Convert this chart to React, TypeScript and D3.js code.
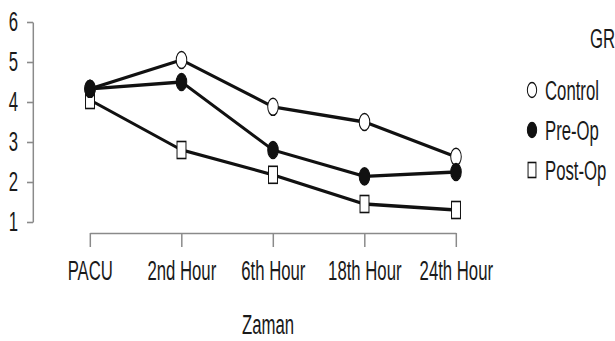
import React, { useRef, useEffect } from 'react';
import * as d3 from 'd3';

const categories = ['PACU', '2nd Hour', '6th Hour', '18th Hour', '24th Hour'];
const yTicks = [1, 2, 3, 4, 5, 6];
const controlValues = [4.33, 5.05, 3.88, 3.5, 2.63];
const preOpValues = [4.33, 4.5, 2.8, 2.14, 2.25];
const postOpValues = [4.05, 2.8, 2.18, 1.45, 1.3];

// the source figure is squeezed horizontally, so draw in a stretched space
const S = 0.62;
const FONT = '"Liberation Sans", Arial, sans-serif';

const App = () => {
  const ref = useRef<HTMLDivElement>(null);

  useEffect(() => {
    if (!ref.current) return;
    d3.select(ref.current).select('svg').remove();

    const width = 615;
    const height = 341;
    const svg = d3.select(ref.current)
      .append('svg')
      .attr('width', width)
      .attr('height', height)
      .style('position', 'absolute')
      .style('left', 0)
      .style('top', 0)
      .style('background', '#fff');

    const g = svg.append('g').attr('transform', `scale(${S},1)`);

    const x = d3.scalePoint<string>()
      .domain(categories)
      .range([90 / S, 456 / S]);

    const y = d3.scaleLinear()
      .domain([1, 6])
      .range([222, 22]);

    const axisColor = '#8a8a8a';
    const textColor = '#1a1a1a';

    const yAxis = g.append('g')
      .attr('transform', `translate(${33 / S},0)`)
      .call(d3.axisLeft(y).tickValues(yTicks).tickSize(6 / S).tickSizeOuter(0).tickPadding(9 / S).tickFormat(d3.format('d')));
    yAxis.select('.domain').attr('stroke', axisColor).attr('stroke-width', 2.4);
    yAxis.selectAll('.tick line').attr('stroke', axisColor).attr('stroke-width', 1.6);
    yAxis.selectAll('.tick text')
      .attr('fill', textColor)
      .style('font-family', FONT)
      .style('font-size', '27px');

    const xAxis = g.append('g')
      .attr('transform', 'translate(0,233)')
      .call(d3.axisBottom(x).tickSize(14).tickSizeOuter(0).tickPadding(14));
    xAxis.select('.domain').attr('stroke', axisColor).attr('stroke-width', 1.6);
    xAxis.selectAll('.tick line').attr('stroke', axisColor).attr('stroke-width', 2.4);
    xAxis.selectAll('.tick text')
      .attr('fill', textColor)
      .style('font-family', FONT)
      .style('font-size', '27px');

    g.append('text')
      .attr('x', 268 / S)
      .attr('y', 334)
      .attr('text-anchor', 'middle')
      .attr('fill', textColor)
      .style('font-family', FONT)
      .style('font-size', '27px')
      .text('Zaman');

    const series = [
      { name: 'Post-Op', values: postOpValues, shape: 'square', fill: '#fff' },
      { name: 'Control', values: controlValues, shape: 'circle', fill: '#fff' },
      { name: 'Pre-Op', values: preOpValues, shape: 'circle', fill: '#111' },
    ];

    const line = d3.line<number>()
      .x((d, i) => x(categories[i]) as number)
      .y(d => y(d));

    series.forEach(s => {
      g.append('path')
        .datum(s.values)
        .attr('fill', 'none')
        .attr('stroke', '#111')
        .attr('stroke-width', 3.3)
        .attr('d', line);
    });

    const drawMarker = (sel: any, shape: string, fill: string, cx: number, cy: number, r: number) => {
      if (shape === 'circle') {
        sel.append('circle')
          .attr('cx', cx).attr('cy', cy).attr('r', r)
          .attr('fill', fill)
          .attr('stroke', '#111')
          .attr('stroke-width', 1.6);
      } else {
        sel.append('rect')
          .attr('x', cx - r * 0.85).attr('y', cy - r).attr('width', r * 1.7).attr('height', r * 2)
          .attr('fill', fill)
          .attr('stroke', '#111')
          .attr('stroke-width', 1.6);
      }
    };

    series.forEach(s => {
      s.values.forEach((v, i) => {
        drawMarker(g, s.shape, s.fill, x(categories[i]) as number, y(v), 8.5);
      });
    });

    // legend
    g.append('text')
      .attr('x', 590 / S)
      .attr('y', 48)
      .attr('fill', textColor)
      .style('font-family', FONT)
      .style('font-size', '27px')
      .text('GR');

    const legendItems = [series[1], series[2], series[0]];
    legendItems.forEach((s, i) => {
      const cy = 90 + i * 40;
      drawMarker(g, s.shape, s.fill, 532 / S, cy, 7.5);
      g.append('text')
        .attr('x', 545 / S)
        .attr('y', cy + 10)
        .attr('fill', textColor)
        .style('font-family', FONT)
        .style('font-size', '27px')
        .text(s.name);
    });
  }, []);

  return <div className="chart-container" ref={ref}></div>;
};

export default App;
